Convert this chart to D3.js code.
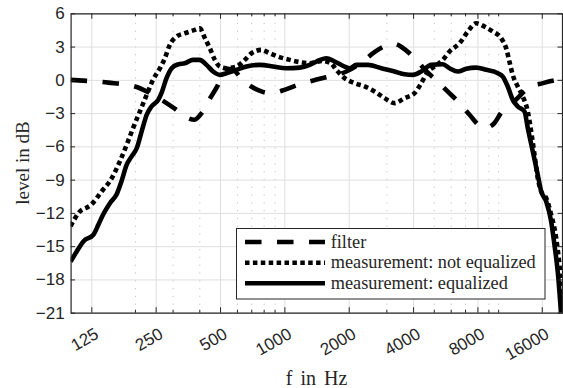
<!DOCTYPE html>
<html><head><meta charset="utf-8">
<script src="https://cdn.jsdelivr.net/npm/d3@7"></script>
<style>
html,body{margin:0;padding:0;background:#fff;}
svg{display:block;}
</style></head>
<body>
<svg id="chart" width="563" height="388"></svg>
<script>
// ---------- data ----------
const xMajorTicks = [125, 250, 500, 1000, 2000, 4000, 8000, 16000];
const xMinorTicks = [200, 300, 400, 600, 700, 800, 900, 3000, 5000, 6000, 7000, 9000, 10000];
const yTicks = [6, 3, 0, -3, -6, -9, -12, -15, -18, -21];
const seriesNames = ["filter", "measurement: not equalized", "measurement: equalized"];

const filterF  = [100,120,150,200,230,266,307,350,380,410,448,488,520,545,585,630,700,770,850,930,1000,1180,1400,1660,1950,2330,2600,3000,3250,3570,4070,4600,5200,5800,6600,7350,8300,8800,9600,10300,12100,13800,16200,19000,20000];
const filterDb = [0,-0.1,-0.25,-0.6,-1.1,-1.8,-2.6,-3.4,-3.6,-3.0,-1.7,-0.5,0.7,1.0,0.8,0.1,-0.6,-1.0,-1.2,-1.1,-0.9,-0.4,0.0,0.35,0.75,1.65,2.4,3.1,3.25,2.9,1.95,0.8,-0.15,-1.05,-2.1,-3.15,-4.2,-4.3,-3.9,-3.0,-1.8,-0.75,-0.3,0,0.05];

const notEqF  = [100,109,125,140,156,170,183,196,211,227,243,262,276,291,313,342,381,402,425,448,473,499,536,597,653,702,781,854,934,1059,1180,1314,1500,1650,1750,1914,2132,2374,2644,2944,3278,3650,4065,4368,4692,5040,5513,5924,6598,7214,7896,8635,9440,10330,10900,11290,11700,12350,13030,13760,14270,14790,15320,15890,16770,17690,18670,19340,20000];
const notEqDb = [-13.2,-12.0,-11.25,-10.05,-8.85,-7.35,-5.85,-4.35,-2.85,-1.35,0,1.05,1.95,3.15,3.9,4.2,4.5,4.65,3.75,2.85,1.8,1.2,1.05,1.2,1.8,2.4,2.7,2.4,2.1,1.8,1.6,1.5,1.7,1.5,0.9,0.15,-0.3,-0.6,-1.05,-1.65,-2.1,-1.65,-1.2,-0.3,0.75,1.2,1.8,2.55,3.3,4.35,5.1,4.8,4.35,3.75,2.85,1.65,0.45,-0.6,-1.5,-2.85,-4.65,-6.75,-8.85,-10.05,-10.65,-12.15,-14.25,-16.65,-20.0];

const eqF  = [100,107,115,128,135,142,153,164,173,183,193,204,215,227,239,257,266,281,297,319,342,374,402,432,464,499,536,597,665,767,885,1022,1180,1314,1412,1572,1719,1914,2020,2171,2460,2841,3278,3650,3992,4368,4866,5513,5924,6478,7090,7896,8793,9960,10510,11090,11700,12350,13280,13760,14520,15320,15890,16770,17690,18330,18990,19700,20000];
const eqDb = [-16.4,-15.45,-14.55,-13.95,-13.05,-12.15,-11.1,-10.35,-9.15,-7.65,-6.9,-6.15,-4.65,-3.15,-2.4,-1.8,-1.2,0.15,1.05,1.4,1.5,1.8,1.8,1.35,0.75,0.45,0.6,0.9,1.2,1.35,1.2,1.05,1.1,1.35,1.65,1.95,1.65,1.2,1.05,1.35,1.35,1.05,0.75,0.5,0.45,0.75,1.35,1.4,1.05,0.75,1.0,1.1,0.9,0.6,0.3,-0.6,-1.8,-2.4,-2.85,-4.35,-6.45,-8.55,-10.05,-10.95,-12.75,-14.85,-17.25,-21.15,-23];

// ---------- layout ----------
const L = 70.6, R = 562.5, T = 13.3, B = 312.7;
const axisColor = "#262626";
const serif = "'Liberation Serif', 'Times New Roman', serif";
const svg = d3.select("#chart");
const xs = d3.scaleLog().domain([100, 20000]).range([L, R]);
const ys = d3.scaleLinear().domain([-21, 6]).range([B, T]);

svg.append("defs").append("clipPath").attr("id","clip")
  .append("rect").attr("x",L).attr("y",T).attr("width",R-L).attr("height",B-T);

// grids
const gMinor = svg.append("g").attr("transform",`translate(0,${B})`)
  .call(d3.axisBottom(xs).tickValues(xMinorTicks).tickSize(-(B-T)).tickFormat(""));
gMinor.select(".domain").remove();
gMinor.selectAll("line").attr("stroke","#c8c8c8").attr("stroke-width",1).attr("stroke-dasharray","1.3,6.5");

const gMajor = svg.append("g").attr("transform",`translate(0,${B})`)
  .call(d3.axisBottom(xs).tickValues(xMajorTicks).tickSize(-(B-T)).tickFormat(""));
gMajor.select(".domain").remove();
gMajor.selectAll("line").attr("stroke","#dfdfdf").attr("stroke-width",1);

const gYGrid = svg.append("g").attr("transform",`translate(${L},0)`)
  .call(d3.axisLeft(ys).tickValues(yTicks).tickSize(-(R-L)).tickFormat(""));
gYGrid.select(".domain").remove();
gYGrid.selectAll("line").attr("stroke","#dfdfdf").attr("stroke-width",1);

// curves
const line = d3.line().x(d => xs(d[0])).y(d => ys(d[1])).curve(d3.curveMonotoneX);
const plot = svg.append("g").attr("clip-path","url(#clip)");
const series = [
  {f: filterF, v: filterDb, dash: "16.5,15.5"},
  {f: notEqF, v: notEqDb, dash: "4.5,3.4"},
  {f: eqF, v: eqDb, dash: null}
];
series.forEach(s => {
  const pts = s.f.map((f,i) => [f, s.v[i]]);
  const p = plot.append("path").attr("d", line(pts)).attr("fill","none")
    .attr("stroke","#000").attr("stroke-width",4.6).attr("stroke-linejoin","round");
  if (s.dash) p.attr("stroke-dasharray", s.dash).attr("stroke-linecap","butt");
});

// axes
function styleAxis(g){
  g.selectAll(".domain").attr("stroke",axisColor).attr("stroke-width",1.2);
  g.selectAll(".tick line").attr("stroke",axisColor).attr("stroke-width",1);
  g.selectAll("text").attr("fill",axisColor).style("font-family","'Liberation Sans', Arial, sans-serif").style("font-size","17px");
}
const xb = svg.append("g").attr("transform",`translate(0,${B})`)
  .call(d3.axisBottom(xs).tickValues(xMajorTicks).tickSizeInner(-5.5).tickSizeOuter(0).tickFormat(d3.format("d")));
styleAxis(xb);
xb.selectAll("text").attr("x",0).attr("y",0).attr("dy",0)
  .attr("transform","translate(8,24.5) rotate(-30)").style("text-anchor","end");
const xbm = svg.append("g").attr("transform",`translate(0,${B})`)
  .call(d3.axisBottom(xs).tickValues(xMinorTicks).tickSizeInner(-3).tickSizeOuter(0).tickFormat(""));
styleAxis(xbm); xbm.select(".domain").remove();

const xt = svg.append("g").attr("transform",`translate(0,${T})`)
  .call(d3.axisTop(xs).tickValues(xMajorTicks).tickSizeInner(-5.5).tickSizeOuter(0).tickFormat(""));
styleAxis(xt);
const xtm = svg.append("g").attr("transform",`translate(0,${T})`)
  .call(d3.axisTop(xs).tickValues(xMinorTicks).tickSizeInner(-3).tickSizeOuter(0).tickFormat(""));
styleAxis(xtm); xtm.select(".domain").remove();

const yl = svg.append("g").attr("transform",`translate(${L},0)`)
  .call(d3.axisLeft(ys).tickValues(yTicks).tickSizeInner(-4.5).tickSizeOuter(0).tickPadding(6));
styleAxis(yl);
const yr = svg.append("g").attr("transform",`translate(${R-0.5},0)`)
  .call(d3.axisRight(ys).tickValues(yTicks).tickSizeInner(-4.5).tickSizeOuter(0).tickFormat(""));
styleAxis(yr);

// axis labels
svg.append("text").attr("x",(L+R)/2).attr("y",385).attr("text-anchor","middle")
  .style("font-family",serif).style("font-size","20px").style("word-spacing","3px").attr("fill","#262626")
  .text("f in Hz");
svg.append("text").attr("transform",`translate(29,${(T+B)/2}) rotate(-90)`).attr("text-anchor","middle")
  .style("font-family",serif).style("font-size","19px").attr("fill","#262626")
  .text("level in dB");

// legend
const lg = svg.append("g");
lg.append("rect").attr("x",236.5).attr("y",228.5).attr("width",308.5).attr("height",70.5)
  .attr("fill","#fff").attr("stroke",axisColor).attr("stroke-width",1);
const rowY = [242, 262.7, 283.3];
series.forEach((s,i) => {
  const ln = lg.append("line").attr("x1",245).attr("x2",325).attr("y1",rowY[i]).attr("y2",rowY[i])
    .attr("stroke","#000").attr("stroke-width",4.6);
  if (s.dash) ln.attr("stroke-dasharray", s.dash);
  lg.append("text").attr("x",330.7).attr("y",rowY[i]+5.5)
    .style("font-family",serif).style("font-size","18.3px").attr("fill","#262626")
    .text(seriesNames[i]);
});
</script>
</body></html>
